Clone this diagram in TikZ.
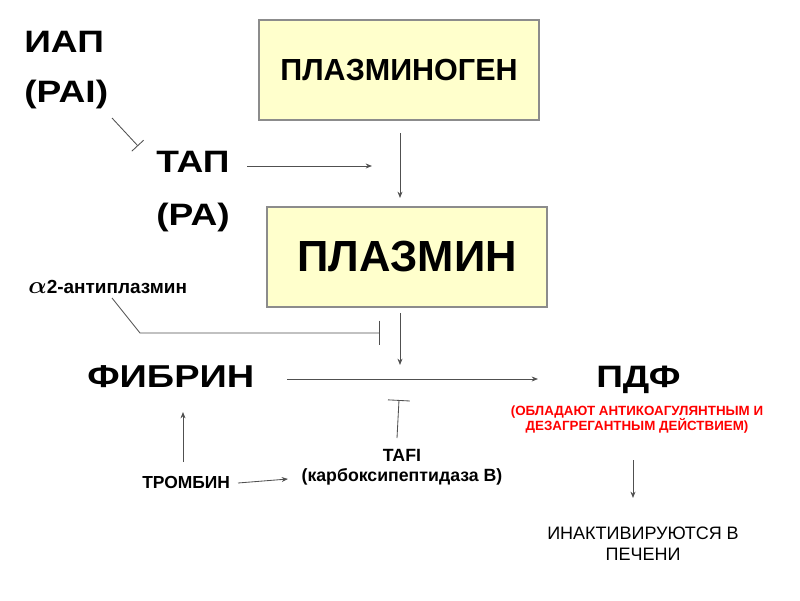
\documentclass[tikz,border=0pt]{standalone}
\usepackage{amsmath}
\usepackage{fontspec}
\setmainfont{Liberation Sans}
\newfontfamily\widesans{Liberation Sans}[FakeStretch=1.2]
\usetikzlibrary{arrows.meta}
\definecolor{boxyellow}{HTML}{FFFFCC}
\definecolor{boxline}{HTML}{8C8C8C}
\definecolor{linkgray}{HTML}{505050}
\definecolor{notered}{HTML}{FF0000}
\begin{document}
\begin{tikzpicture}[x=0.25mm,y=-0.25mm,
  every node/.style={inner sep=0pt},
  big/.style={font=\widesans\fontsize{22}{35}\selectfont\bfseries,align=left,anchor=base west},
  box/.style={draw=boxline,fill=boxyellow,line width=0.8pt,minimum width=70mm,minimum height=25mm},
  link/.style={draw=linkgray,line width=0.6pt,-{Stealth[length=4.5pt,width=3.5pt]}},
  stopline/.style={draw=linkgray,line width=0.6pt,-{Bar[width=#1]}},
  small/.style={font=\fontsize{12.4}{14}\selectfont\bfseries,align=center}]
\useasboundingbox[fill=white] (0,0) rectangle (800,600);
% boxes
\node[box,font=\fontsize{21.7}{25}\selectfont\bfseries] (plg) at (399,70) {ПЛАЗМИНОГЕН};
\node[box,font=\fontsize{31}{36}\selectfont\bfseries] (plasmin) at (407,257) {ПЛАЗМИН};
% free labels (base = last line)
\node[big] (iap) at (24,102) {ИАП\\(PAI)};
\node[big,font=\widesans\fontsize{22}{37}\selectfont\bfseries] (tap) at (156,225) {ТАП\\(PA)};
\node[big,font=\widesans\fontsize{22.5}{35}\selectfont\bfseries] (fibrin) at (87,387) {ФИБРИН};
\node[big] (pdf) at (596,387) {ПДФ};
\node[anchor=base west,font=\fontsize{13.5}{16}\selectfont\bfseries] (alpha) at (28,293)
  {\fontsize{17}{16}\selectfont$\boldsymbol{\alpha}$\fontsize{13.5}{16}\selectfont2-антиплазмин};
\node[anchor=base west,small] (thrombin) at (142,488) {ТРОМБИН};
\node[anchor=base,small,font=\fontsize{12.6}{14.2}\selectfont\bfseries] (tafi) at (402,481) {TAFI\\(карбоксипептидаза В)};
\node[anchor=base,align=center,text=notered,font=\fontsize{9.5}{10.6}\selectfont\bfseries] (note) at (637,430)
  {(ОБЛАДАЮТ АНТИКОАГУЛЯНТНЫМ И\\ДЕЗАГРЕГАНТНЫМ ДЕЙСТВИЕМ)};
\node[anchor=base,align=center,font=\fontsize{12.8}{14.9}\selectfont] (liver) at (643,560)
  {ИНАКТИВИРУЮТСЯ В\\ПЕЧЕНИ};
% connector ends
\coordinate (iapout) at (112,118);
\coordinate (iapbar) at (138,146);
\coordinate (tapout) at (247,166);
\coordinate (tapin) at (372,166);
\coordinate (plgout) at (400,133);
\coordinate (plsin) at (400,198);
\coordinate (alphaout) at (112,298);
\coordinate (alphabend) at (140,333);
\coordinate (alphabar) at (380,333);
\coordinate (plsout) at (400,313);
\coordinate (lysis) at (400,365);
\coordinate (fibout) at (287,379);
\coordinate (pdfin) at (538,379);
\coordinate (tafiout) at (397,438);
\coordinate (tafibar) at (399,400);
\coordinate (thrright) at (238,483);
\coordinate (tafiin) at (288,479);
\coordinate (thrup) at (183,462);
\coordinate (fibin) at (183,412);
\coordinate (pdfout) at (633,460);
\coordinate (liverin) at (633,498);
% connectors
\draw[stopline=4mm] (iapout) -- (iapbar);
\draw[link] (tapout) -- (tapin);
\draw[link] (plgout) -- (plsin);
\draw[stopline=6.2mm] (alphaout) -- (alphabend) -- (alphabar);
\draw[link] (plsout) -- (lysis);
\draw[link] (fibout) -- (pdfin);
\draw[stopline=5.5mm] (tafiout) -- (tafibar);
\draw[link] (thrright) -- (tafiin);
\draw[link] (thrup) -- (fibin);
\draw[link] (pdfout) -- (liverin);
\end{tikzpicture}
\end{document}
